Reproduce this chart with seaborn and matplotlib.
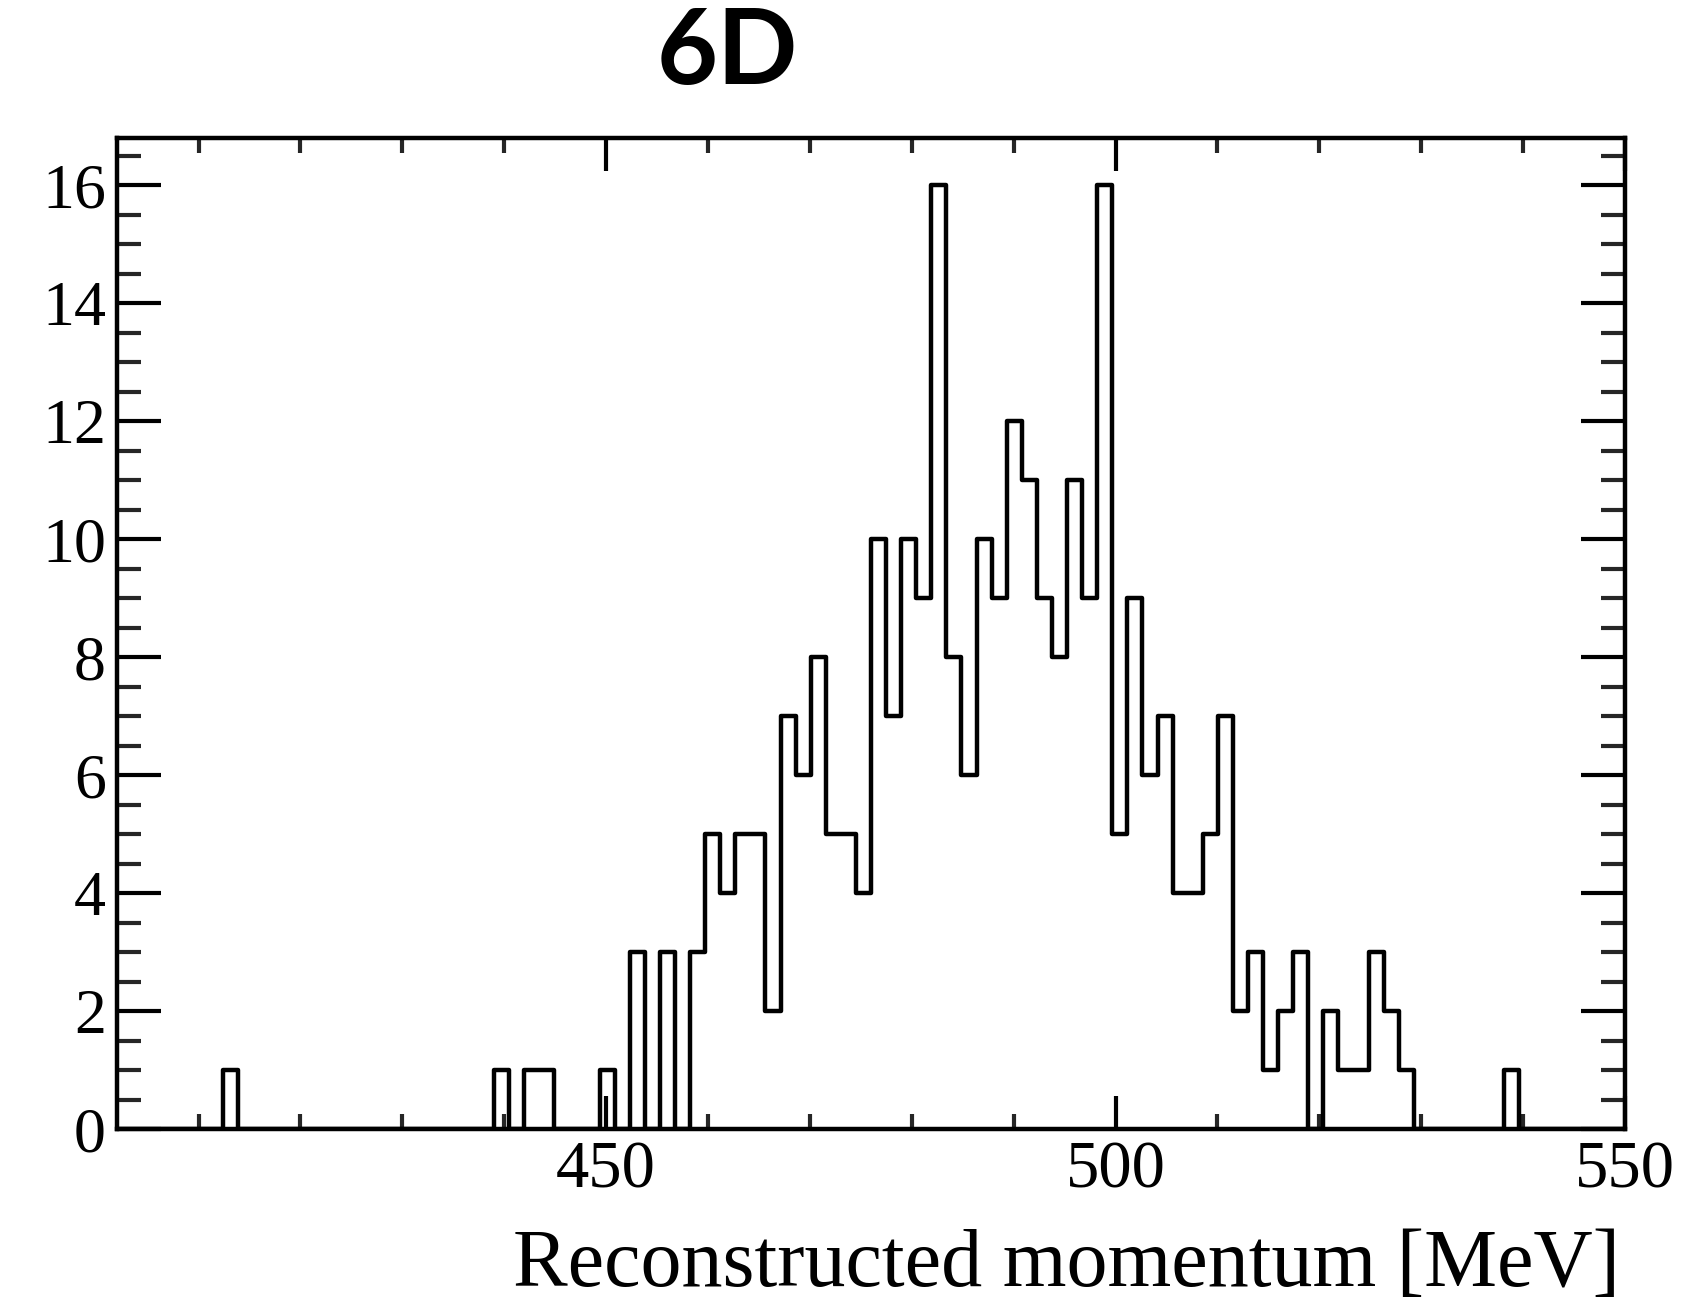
import numpy as np
import pandas as pd
import matplotlib
matplotlib.use("Agg")
import matplotlib.pyplot as plt
import seaborn as sns
from matplotlib.ticker import MultipleLocator

# ---- data ----
x_min, x_max, n_bins = 402.0, 550.0, 100
nonzero_bins = [7, 25, 27, 28, 32, 34, 36, 38, 39, 40, 41, 42, 43, 44, 45, 46, 47, 48, 49,
                50, 51, 52, 53, 54, 55, 56, 57, 58, 59, 60, 61, 62, 63, 64, 65, 66, 67, 68,
                69, 70, 71, 72, 73, 74, 75, 76, 77, 78, 80, 81, 82, 83, 84, 85, 92]
nonzero_counts = [1, 1, 1, 1, 1, 3, 3, 3, 5, 4, 5, 5, 2, 7, 6, 8, 5, 5, 4,
                  10, 7, 10, 9, 16, 8, 6, 10, 9, 12, 11, 9, 8, 11, 9, 16, 5, 9, 6,
                  7, 4, 4, 5, 7, 2, 3, 1, 2, 3, 2, 1, 1, 3, 2, 1, 1]
title_text = "6D"
xlabel_text = "Reconstructed momentum [MeV]"

edges = np.linspace(x_min, x_max, n_bins + 1)
centers = 0.5 * (edges[:-1] + edges[1:])
counts = np.zeros(n_bins)
counts[nonzero_bins] = nonzero_counts
df = pd.DataFrame({"momentum": centers, "count": counts})

sns.set_theme(style="white")
plt.rcParams['font.family'] = ['Liberation Serif', 'DejaVu Serif']
plt.rcParams['text.color'] = 'black'
plt.rcParams['axes.labelcolor'] = 'black'

fig = plt.figure(figsize=(16.95, 13.15), dpi=100)
ax = fig.add_axes([117/1695, 1 - 1129/1315, (1625-117)/1695, (1129-138)/1315])

sns.histplot(data=df, x="momentum", weights="count", bins=edges.tolist(), element="step",
             fill=False, color="black", linewidth=3.2, ax=ax)

ax.set_xlim(x_min, x_max)
ax.set_ylim(0, 16.8)
ax.set_ylabel("")
ax.xaxis.set_major_locator(MultipleLocator(50))
ax.xaxis.set_minor_locator(MultipleLocator(10))
ax.yaxis.set_major_locator(MultipleLocator(2))
ax.yaxis.set_minor_locator(MultipleLocator(0.5))

for s in ax.spines.values():
    s.set_visible(True)
    s.set_linewidth(3.2)
    s.set_color("black")

ax.tick_params(axis="x", which="major", direction="in", length=24, width=3, top=True,
               bottom=True, labelsize=48, pad=8, colors="black")
ax.tick_params(axis="x", which="minor", direction="in", length=11, width=3, top=True, bottom=True)
ax.tick_params(axis="y", which="major", direction="in", length=32, width=3, left=True,
               right=True, labelsize=46, pad=8, colors="black")
ax.tick_params(axis="y", which="minor", direction="in", length=17, width=3, left=True, right=True)

ax.set_xlabel(xlabel_text, fontsize=59, ha="right", va="top", color="black")
ax.xaxis.set_label_coords(0.997, -0.100)

fig.text(727/1695, 1 - 54/1315, title_text, ha="center", va="center", color="black",
         fontsize=76, fontweight="bold", family=["Lato", "DejaVu Sans"])

fig.savefig("out.png", dpi=100)
